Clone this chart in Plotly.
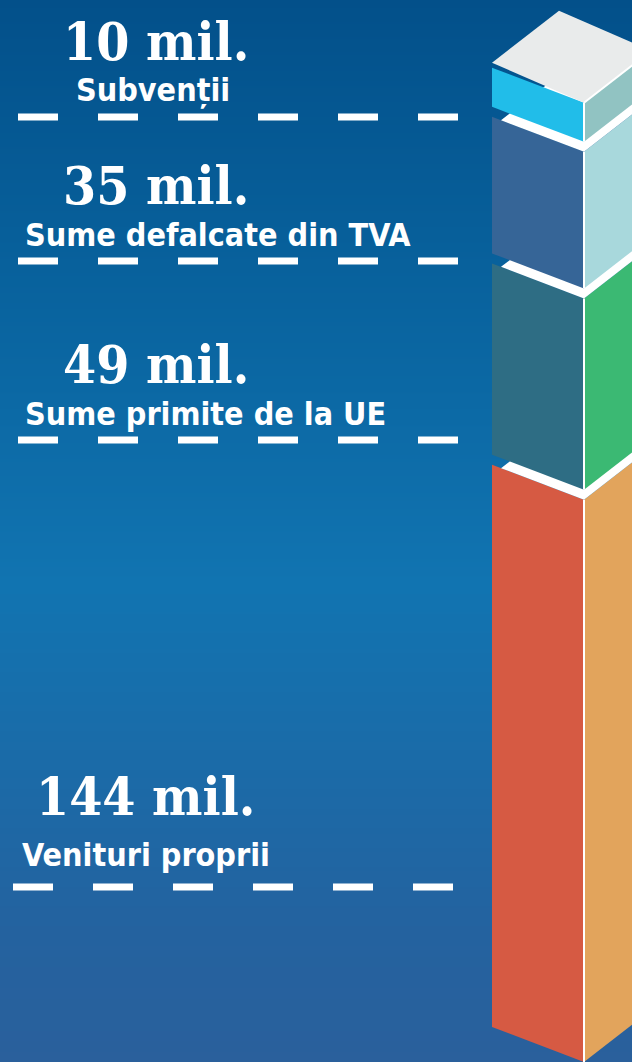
import plotly.graph_objects as go

# ---------------- data ----------------
categories = ["Venituri proprii", "Sume primite de la UE", "Sume defalcate din TVA", "Subvenții"]
values = [144, 49, 35, 10]  # milioane
unit_label = "mil."

# ---------------- style ----------------
left_colors = ["#d65a43", "#2e6d84", "#366597", "#21bde9"]
right_colors = ["#e2a45c", "#3bb973", "#a8d8dc", "#91c3c2"]
top_color = "#e9ebeb"

W, H = 632, 1062
Y_MAX = 272.0           # value units spanning the full figure height
K = H / Y_MAX           # px per value unit
GAP = 10 / K
DL = 35 / K             # rise of the left face (back-left edge)
DR = 52 / K             # rise of the right face
X_BACK, X_FRONT, X_RIGHT = 492, 584, 651
X_INSET = 501

# label layout (pixel positions)
num_pos = [(145, 796), (156, 364), (156, 185), (156, 41)]      # centre x, cap-centre y
cat_pos = [(20, 855), (23, 414), (23, 235), (74, 90)]         # left x, cap-centre y
dash_rows = [(13, 887), (18, 440), (18, 261), (18, 117)]      # start x, y

fig = go.Figure()

# background gradient
bg_stops = [[0.0, "#2a609c"], [0.12, "#24629f"], [0.45, "#1174b1"], [0.78, "#075f9a"], [1.0, "#03508a"]]
fig.add_trace(go.Heatmap(
    x=[0, W], y=[0, Y_MAX * 0.12, Y_MAX * 0.45, Y_MAX * 0.78, Y_MAX],
    z=[[0, 0], [0.12, 0.12], [0.45, 0.45], [0.78, 0.78], [1, 1]],
    colorscale=bg_stops, zmin=0, zmax=1, zsmooth="best", showscale=False, hoverinfo="skip"))

def poly(xs, ys, color, name):
    fig.add_trace(go.Scatter(x=xs + [xs[0]], y=ys + [ys[0]], mode="lines", fill="toself",
                             fillcolor=color, line=dict(width=0, color=color),
                             hoverinfo="skip", name=name, showlegend=False))

base = 0.0
n = len(values)
for i, (cat, v) in enumerate(zip(categories, values)):
    b, t = base, base + v
    # left face
    poly([X_BACK, X_FRONT, X_FRONT, X_BACK], [b + DL, b, t, t + DL], left_colors[i], cat)
    # right face
    poly([X_FRONT, X_RIGHT, X_RIGHT, X_FRONT], [b, b + DR, t + DR, t], right_colors[i], cat)
    # front edge highlight
    fig.add_trace(go.Scatter(x=[X_FRONT, X_FRONT], y=[b, t], mode="lines",
                             line=dict(color="white", width=2), hoverinfo="skip", showlegend=False))
    if i < n - 1:
        fr = (X_FRONT - X_INSET) / (X_FRONT - X_BACK)
        poly([X_FRONT, X_INSET, X_INSET + (X_RIGHT - X_FRONT), X_RIGHT],
             [t, t + DL * fr, t + DL * fr + DR, t + DR], "white", cat)
    else:
        lift = 5 / K
        poly([X_FRONT, X_BACK, X_BACK + (X_RIGHT - X_FRONT), X_RIGHT],
             [t, t + DL + lift, t + DL + lift + DR, t + DR], top_color, cat)
        fig.add_trace(go.Scatter(x=[X_FRONT, X_RIGHT], y=[t, t + DR], mode="lines",
                                 line=dict(color="white", width=2), hoverinfo="skip", showlegend=False))
    base = t + GAP

# labels
for i, (cat, v) in enumerate(zip(categories, values)):
    nx, ny = num_pos[i]
    fig.add_annotation(x=nx / W, y=1 - ny / H, xref="paper", yref="paper",
                       text=f"{v} {unit_label}", showarrow=False, xanchor="center", yanchor="middle",
                       font=dict(family="DejaVu Serif Condensed, DejaVu Serif", size=53, color="white",
                                 weight="bold"))
    cx, cy = cat_pos[i]
    fig.add_annotation(x=cx / W, y=1 - cy / H, xref="paper", yref="paper",
                       text=cat, showarrow=False, xanchor="left", yanchor="middle",
                       font=dict(family="Liberation Sans Narrow, DejaVu Sans Condensed, Liberation Sans",
                                 size=32, color="white", weight="bold"))
    sx, sy = dash_rows[i]
    fig.add_shape(type="line", xref="paper", yref="paper",
                  x0=sx / W, x1=(sx + 440) / W, y0=1 - sy / H, y1=1 - sy / H,
                  line=dict(color="white", width=7, dash="40px,40px"))

fig.update_layout(
    width=W, height=H, margin=dict(l=0, r=0, t=0, b=0),
    paper_bgcolor="#0a5a94", plot_bgcolor="#0a5a94",
    xaxis=dict(range=[0, W], visible=False, fixedrange=True),
    yaxis=dict(range=[0, Y_MAX], visible=False, fixedrange=True),
    showlegend=False,
)

fig.write_html("out.html", config={"displayModeBar": False},
               post_script="document.body.style.margin='0';document.body.style.overflow='hidden';")
